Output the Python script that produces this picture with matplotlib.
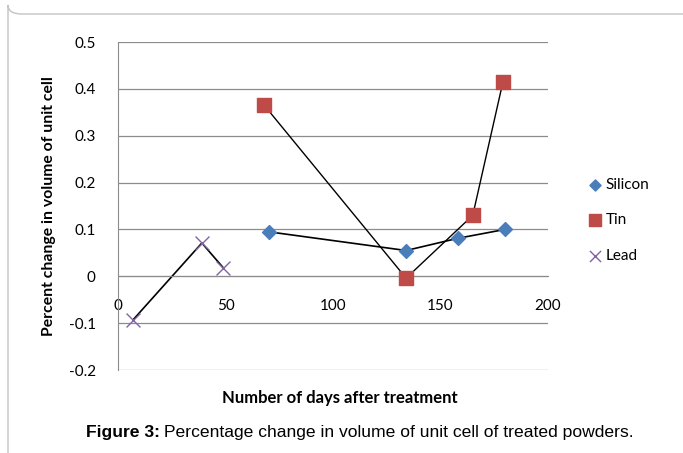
import matplotlib.pyplot as plt
from matplotlib.patches import FancyBboxPatch

# data
silicon_days = [70, 134, 158, 180]
silicon_vals = [0.095, 0.055, 0.081, 0.100]
tin_days = [68, 134, 165, 179]
tin_vals = [0.365, -0.004, 0.130, 0.414]
lead_days = [7, 39, 49]
lead_vals = [-0.093, 0.071, 0.018]

xticks = [0, 50, 100, 150, 200]
yticks = [-0.2, -0.1, 0, 0.1, 0.2, 0.3, 0.4, 0.5]
ytick_labels = ['-0.2', '-0.1', '0', '0.1', '0.2', '0.3', '0.4', '0.5']

plt.rcParams['font.family'] = ['Lato', 'DejaVu Sans']

fig = plt.figure(figsize=(6.83, 4.53), dpi=100)
W, H = 683, 453

# rounded frame around the whole figure
frame = FancyBboxPatch((8 / W, 1 - 14 / H), 1.2, -1.2, transform=fig.transFigure,
                       boxstyle='round,pad=0,rounding_size=0.02', fill=False,
                       edgecolor='#c4c4c4', linewidth=1.0)
fig.patches.append(frame)

ax = fig.add_axes([118 / W, 1 - 370 / H, (548 - 118) / W, (370 - 42) / H])

ax.plot(silicon_days, silicon_vals, color='black', linewidth=1.2, zorder=2)
ax.plot(tin_days, tin_vals, color='black', linewidth=1.0, zorder=2)
ax.plot(lead_days, lead_vals, color='black', linewidth=1.2, zorder=2)

ax.scatter(silicon_days, silicon_vals, marker='D', s=50, color='#4A7EBB', zorder=3, label='Silicon')
ax.scatter(tin_days, tin_vals, marker='s', s=110, color='#BE4B48', zorder=3, label='Tin')
ax.scatter(lead_days, lead_vals, marker='x', s=100, color='#8064A2', linewidths=1.0, zorder=3, label='Lead')

ax.set_xlim(0, 200)
ax.set_ylim(-0.2, 0.5)
ax.set_xticks(xticks)
ax.set_yticks(yticks)
ax.set_yticklabels(ytick_labels)
ax.yaxis.grid(True, color='#8c8c8c', linewidth=0.9)
ax.set_axisbelow(True)

for s in ['top', 'right']:
    ax.spines[s].set_visible(False)
ax.spines['bottom'].set_position(('data', 0))
ax.spines['bottom'].set_color('#8c8c8c')
ax.spines['left'].set_color('#8c8c8c')
ax.tick_params(axis='both', length=0, labelsize=11)
ax.tick_params(axis='x', pad=16)
ax.tick_params(axis='y', pad=16)

ax.set_ylabel('Percent change in volume of unit cell', fontsize=11.3, fontweight='bold', labelpad=9)
fig.text(340 / W, 1 - 398 / H, 'Number of days after treatment', fontsize=12,
         fontweight='bold', ha='center', va='center')

leg = fig.legend(handles=ax.collections, loc='upper left', bbox_to_anchor=(587 / W, 1 - 178 / H),
                 frameon=False, fontsize=11, handletextpad=0.1, labelspacing=1.4,
                 handlelength=1.1, borderaxespad=0, borderpad=0, markerscale=0.8)

# caption: bold "Figure 3:" followed by regular text
fig.canvas.draw()
r = fig.canvas.get_renderer()
cap_y = 1 - 433 / H
t1 = fig.text(86 / W, cap_y, 'Figure 3:', fontsize=12.6, fontweight='bold',
              family='Liberation Sans', ha='left', va='center')
w1 = t1.get_window_extent(renderer=r).width
fig.text((86 + w1 + 4) / W, cap_y, 'Percentage change in volume of unit cell of treated powders.',
         fontsize=12.6, family='Liberation Sans', ha='left', va='center')

fig.savefig('out.png', dpi=100)
